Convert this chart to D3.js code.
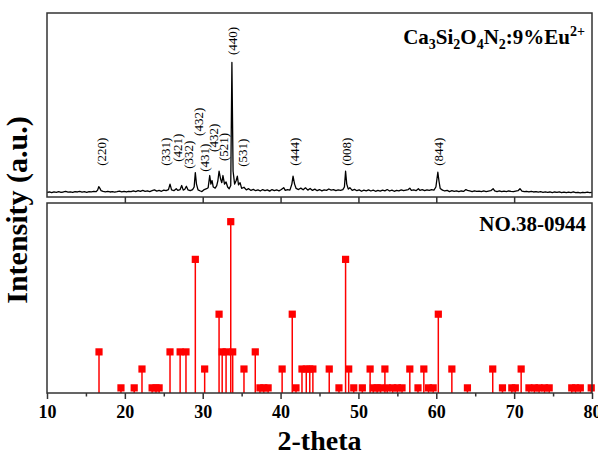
<!DOCTYPE html>
<html>
<head>
<meta charset="utf-8">
<script src="https://cdn.jsdelivr.net/npm/d3@7"></script>
<style>
  body { margin: 0; background: #fff; }
  svg { display: block; font-family: "Times New Roman", "Liberation Serif", serif; }
</style>
</head>
<body>
<div id="chart"></div>
<script>
// measured pattern, [2-theta, counts]
const scan = [
  [10.0,92],[10.3,95],[10.6,90],[10.9,96],[11.2,93],[11.5,97],[11.8,92],[12.1,95],[12.4,99],[12.7,94],
  [13.0,96],[13.3,92],[13.6,97],[13.9,95],[14.2,99],[14.5,94],[14.8,97],[15.1,93],[15.4,98],[15.7,96],
  [16.0,99],[16.3,97],[16.5,108],[16.65,132],[16.8,120],[16.95,104],[17.2,99],[17.5,96],[17.8,99],[18.1,95],
  [18.4,98],[18.7,94],[19.0,97],[19.3,101],[19.6,96],[19.9,99],[20.2,95],[20.5,100],[20.8,97],[21.1,103],
  [21.4,98],[21.7,104],[22.0,99],[22.3,106],[22.6,100],[22.9,103],[23.2,98],[23.5,104],[23.8,110],[24.1,101],
  [24.4,106],[24.7,100],[25.0,108],[25.3,104],[25.6,112],[25.8,150],[26.0,110],[26.3,104],[26.6,118],[26.8,106],
  [27.1,112],[27.3,140],[27.5,108],[27.7,114],[27.9,135],[28.1,110],[28.4,104],[28.7,112],[28.9,130],[29.05,230],
  [29.2,150],[29.4,110],[29.7,102],[29.9,98],[30.2,112],[30.5,118],[30.7,125],[30.9,210],[31.05,150],[31.2,175],
  [31.35,130],[31.6,122],[31.8,140],[31.95,175],[32.1,240],[32.3,185],[32.45,160],[32.6,210],[32.8,150],[33.0,165],
  [33.2,130],[33.4,118],[33.6,140],[33.75,1000],[33.9,240],[34.1,150],[34.3,175],[34.45,205],[34.6,145],[34.8,160],
  [35.0,120],[35.3,128],[35.6,110],[35.9,118],[36.2,106],[36.5,113],[36.8,104],[37.1,110],[37.4,102],[37.7,112],
  [38.0,104],[38.3,110],[38.6,101],[38.9,112],[39.2,104],[39.5,109],[39.8,103],[40.1,112],[40.4,125],[40.6,106],
  [40.9,112],[41.2,108],[41.45,150],[41.6,205],[41.8,150],[42.0,120],[42.3,112],[42.6,122],[42.9,110],[43.2,124],
  [43.5,108],[43.8,120],[44.1,106],[44.4,115],[44.7,104],[45.0,112],[45.3,103],[45.6,110],[45.9,106],[46.2,116],
  [46.5,108],[46.8,112],[47.1,104],[47.4,110],[47.7,106],[48.0,112],[48.2,130],[48.35,240],[48.5,150],[48.7,115],
  [48.9,125],[49.2,106],[49.5,113],[49.8,104],[50.1,110],[50.4,100],[50.7,108],[51.0,103],[51.3,110],[51.6,102],
  [51.9,108],[52.2,100],[52.5,106],[52.8,101],[53.1,108],[53.4,103],[53.7,112],[54.0,102],[54.3,108],[54.6,100],
  [54.9,106],[55.2,103],[55.5,110],[55.8,104],[56.1,108],[56.4,112],[56.6,122],[56.8,106],[57.1,110],[57.4,104],
  [57.7,118],[57.9,106],[58.2,112],[58.5,104],[58.8,110],[59.1,106],[59.4,112],[59.7,108],[59.95,130],[60.2,233],
  [60.35,170],[60.5,120],[60.8,108],[61.1,102],[61.4,106],[61.7,98],[62.0,104],[62.3,99],[62.6,103],[62.9,97],
  [63.2,102],[63.5,99],[63.8,112],[64.0,106],[64.3,102],[64.6,98],[64.9,103],[65.2,99],[65.5,101],[65.8,97],
  [66.1,102],[66.4,98],[66.7,101],[67.0,104],[67.3,118],[67.5,103],[67.8,98],[68.1,102],[68.4,97],[68.7,101],
  [69.0,98],[69.3,102],[69.6,99],[69.9,97],[70.2,101],[70.5,104],[70.75,118],[71.0,101],[71.3,97],[71.6,100],
  [71.9,96],[72.2,99],[72.5,95],[72.8,98],[73.1,94],[73.4,97],[73.7,93],[74.0,96],[74.3,92],[74.6,95],
  [74.9,91],[75.2,95],[75.5,92],[75.8,96],[76.1,91],[76.4,94],[76.7,90],[77.0,94],[77.3,91],[77.6,95],
  [77.9,90],[78.2,93],[78.5,89],[78.8,93],[79.1,90],[79.4,94],[79.7,91],[80.0,93]
];

// (hkl) labels: text, 2-theta of label, label centre in counts
const hklNames = ['(220)','(331)','(421)','(332)','(432)','(431)','(432)','(521)','(531)','(440)','(444)','(008)','(844)'];
const hklTheta = [17.03, 25.28, 26.74, 28.15, 29.43, 30.29, 31.36, 32.64, 35.08, 33.85, 41.85, 48.49, 60.26];
const hklLevel = [376, 376, 404, 355, 585, 334, 473, 410, 369, 1150, 376, 376, 376];

// standard card NO.38-0944
const refTheta = [16.68, 19.5, 21.2, 22.2, 23.5, 24.0, 24.4, 25.8, 27.1, 27.85,
  29.05, 30.25, 32.1, 32.5, 33.0, 33.6, 33.85, 35.3, 36.75, 37.35,
  37.85, 38.4, 40.2, 41.5, 41.98, 42.75, 43.3, 43.75, 44.15, 46.25,
  47.5, 48.35, 48.75, 49.4, 50.5, 51.5, 51.9, 52.4, 52.85, 53.4,
  53.7, 54.4, 55.0, 55.6, 56.6, 57.65, 58.4, 59.0, 59.6, 60.26,
  62.0, 64.0, 67.25, 68.5, 69.7, 70.15, 70.9, 71.9, 72.6, 73.2,
  73.9, 74.5, 77.4, 77.9, 78.5, 79.9];
const refInt = [24, 3, 3, 14, 3, 3, 3, 24, 24, 24,
  78, 14, 46, 24, 24, 100, 24, 14, 24, 3,
  3, 3, 14, 46, 3, 14, 14, 14, 14, 14,
  3, 78, 14, 3, 3, 14, 3, 3, 3, 14,
  3, 3, 3, 3, 14, 3, 14, 3, 3, 46,
  14, 3, 14, 3, 3, 3, 14, 3, 3, 3,
  3, 3, 3, 3, 3, 3];

const majorTicks = [10, 20, 30, 40, 50, 60, 70, 80];
const minorTicks = [15, 25, 35, 45, 55, 65, 75];

const W = 598, H = 458;
const left = 47, right = 592;
const top1 = 13, bot1 = 197, top2 = 203, bot2 = 393;
const serif = '"Times New Roman", "Liberation Serif", serif';
const frameColor = '#333';
const red = '#ff0000';

const svg = d3.select('#chart').append('svg')
    .attr('width', W)
    .attr('height', H);

const x = d3.scaleLinear().domain([10, 80]).range([left, right]);
const yTop = d3.scaleLinear().domain([60, 1345]).range([bot1, top1]);
const yBot = d3.scaleLinear().domain([0, 110.9]).range([bot2, top2]);

// top panel: measured pattern
const line = d3.line()
    .x(d => x(d[0]))
    .y(d => yTop(d[1]));

svg.append('path')
    .datum(scan)
    .attr('d', line)
    .attr('fill', 'none')
    .attr('stroke', '#000')
    .attr('stroke-width', 1.3)
    .attr('stroke-linejoin', 'round');

svg.append('g').selectAll('text')
    .data(hklNames)
    .join('text')
    .attr('transform', (d, i) => `translate(${x(hklTheta[i])},${yTop(hklLevel[i])}) rotate(-90)`)
    .attr('text-anchor', 'middle')
    .attr('dominant-baseline', 'central')
    .style('font-size', '13px')
    .text(d => d);

// bottom panel: stems with square markers
const refData = refTheta.map((t, i) => ({ t, v: refInt[i] }));
const stems = svg.append('g');
stems.selectAll('line')
    .data(refData)
    .join('line')
    .attr('x1', d => x(d.t))
    .attr('x2', d => x(d.t))
    .attr('y1', yBot(0))
    .attr('y2', d => yBot(d.v))
    .attr('stroke', red)
    .attr('stroke-width', 1.5);
stems.selectAll('rect')
    .data(refData)
    .join('rect')
    .attr('x', d => x(d.t) - 3.6)
    .attr('y', d => yBot(d.v) - 3.6)
    .attr('width', 7.2)
    .attr('height', 7.2)
    .attr('fill', red);

// axes
const topAxis = d3.axisBottom(x)
    .tickValues(majorTicks.slice(1, -1))
    .tickSize(6)
    .tickFormat('');
svg.append('g')
    .attr('transform', `translate(0,${bot1})`)
    .call(topAxis);

const botAxis = d3.axisBottom(x)
    .tickValues(majorTicks)
    .tickSize(6)
    .tickPadding(6)
    .tickFormat(d3.format('d'));
const xAxisG = svg.append('g')
    .attr('transform', `translate(0,${bot2})`)
    .call(botAxis);
xAxisG.selectAll('text')
    .attr('fill', '#000')
    .style('font-family', serif)
    .style('font-size', '18px')
    .style('font-weight', '700');

const minorAxis = d3.axisBottom(x)
    .tickValues(minorTicks)
    .tickSize(3.5)
    .tickFormat('');
svg.append('g')
    .attr('transform', `translate(0,${bot2})`)
    .call(minorAxis);

svg.selectAll('.domain').remove();
svg.selectAll('.tick line').attr('stroke', frameColor).attr('stroke-width', 1.5);

// panel frames
[[top1, bot1], [top2, bot2]].forEach(([t, b]) => {
  svg.append('rect')
      .attr('x', left)
      .attr('y', t)
      .attr('width', right - left)
      .attr('height', b - t)
      .attr('fill', 'none')
      .attr('stroke', frameColor)
      .attr('stroke-width', 1.5);
});

// titles
const title = svg.append('text')
    .attr('x', 585)
    .attr('y', 44)
    .attr('text-anchor', 'end')
    .style('font-size', '21px')
    .style('font-weight', 'bold');
title.append('tspan').text('Ca');
title.append('tspan').text('3').attr('dy', 5).style('font-size', '14px');
title.append('tspan').text('Si').attr('dy', -5);
title.append('tspan').text('2').attr('dy', 5).style('font-size', '14px');
title.append('tspan').text('O').attr('dy', -5);
title.append('tspan').text('4').attr('dy', 5).style('font-size', '14px');
title.append('tspan').text('N').attr('dy', -5);
title.append('tspan').text('2').attr('dy', 5).style('font-size', '14px');
title.append('tspan').text(':9%Eu').attr('dy', -5);
title.append('tspan').text('2+').attr('dy', -8).style('font-size', '14px');

svg.append('text')
    .attr('x', 586)
    .attr('y', 231)
    .attr('text-anchor', 'end')
    .style('font-size', '21px')
    .style('font-weight', 'bold')
    .text('NO.38-0944');

// axis titles
svg.append('text')
    .attr('transform', `translate(27,210) rotate(-90)`)
    .attr('text-anchor', 'middle')
    .style('font-size', '30px')
    .style('font-weight', 'bold')
    .text('Intensity (a.u.)');

svg.append('text')
    .attr('x', (left + right) / 2)
    .attr('y', 450)
    .attr('text-anchor', 'middle')
    .style('font-size', '28px')
    .style('font-weight', 'bold')
    .text('2-theta');
</script>
</body>
</html>
